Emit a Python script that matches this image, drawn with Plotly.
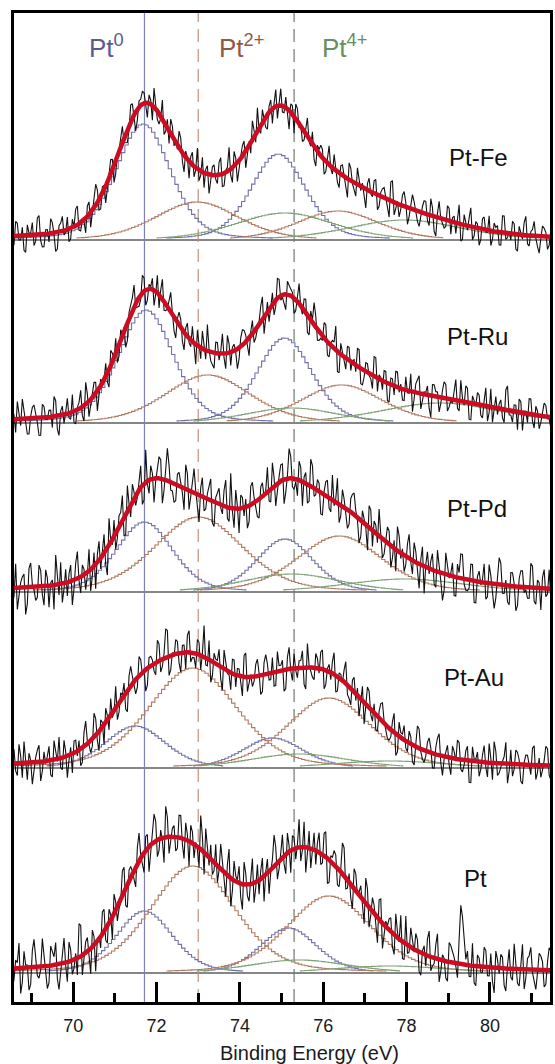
import numpy as np
import plotly.graph_objects as go

# ---------------- data ----------------
panels = ["Pt-Fe", "Pt-Ru", "Pt-Pd", "Pt-Au", "Pt"]
state_labels = ["Pt<sup>0</sup>", "Pt<sup>2+</sup>", "Pt<sup>4+</sup>"]
ref_energies = [71.71, 73.0, 75.3]          # Pt0, Pt2+, Pt4+ reference lines (eV)
x_ticks = [70, 72, 74, 76, 78, 80]
x_minor = [69, 71, 73, 75, 77, 79, 81]

# component order: Pt0 7/2, Pt0 5/2, Pt2+ 7/2, Pt2+ 5/2, Pt4+ 7/2, Pt4+ 5/2
comp_state = [0, 0, 1, 1, 2, 2]

fe_centers = [71.68, 74.92, 72.97, 76.35, 75.08, 77.95]
fe_heights = [116, 86, 38, 29, 27, 20]
fe_fwhm = [1.55, 1.55, 2.35, 2.3, 2.8, 3.2]

ru_centers = [71.75, 75.07, 73.23, 76.44, 75.25, 78.8]
ru_heights = [113, 85, 48, 38, 15, 20]
ru_fwhm = [1.55, 1.55, 2.4, 2.3, 2.6, 3.4]

pd_centers = [71.71, 75.08, 73.01, 76.39, 75.25, 77.96]
pd_heights = [70, 53, 75, 56, 18, 13]
pd_fwhm = [1.6, 1.6, 2.5, 2.4, 2.8, 3.4]

au_centers = [71.49, 74.79, 72.87, 76.14, 75.42, 77.6]
au_heights = [42, 30, 100, 70, 14, 7]
au_fwhm = [1.7, 1.7, 2.5, 2.4, 2.8, 3.2]

pt_centers = [71.71, 75.17, 72.87, 76.14, 75.42, 77.6]
pt_heights = [62, 45, 107, 77, 13, 7]
pt_fwhm = [1.6, 1.6, 2.4, 2.4, 2.8, 3.2]

lorentz_fraction = 0.3

# raw spectra: deviation of measured counts from the fit, sampled every 0.04 eV from 68.5 eV;
# *_even holds samples 0, 2, 4, ...; *_odd holds samples 1, 3, 5, ...
raw_start, raw_step = 68.5, 0.04
fe_even = [3,-4,6,-2,-7,5,1,-5,8,-3, -6,2,7,-1,-8,4,-2,6,-5,0, 9,-4,-1,5,-7,3,6,-6,2,-3,
           7,-8,1,4,-2,-6,8,-1,-5,3, 5,-7,2,9,-4,-1,-6,4,7,-3, -2,6,-8,1,3,-5,10,-2,-7,4,
           -1,5,-4,8,-6,2,-3,7,-9,1, 6,-2,-5,3,11,-4,0,-7,5,2, -6,8,-3,-1,4,-8,6,1,-4,9,
           -2,-6,3,5,-7,2,-1,7,-5,4, 1,-9,6,-3,8,-2,-5,3,-1,6, -7,2,5,-4,9,-6,1,-2,7,-8,
           3,4,-5,-1,6,-3,8,-7,2,0, -4,7,-6,3,1,-8,5,-2,9,-4, 2,-5,6,-1,-7,4,3,-6,8,-2,
           -3,5,-8,1,6,-4,2,7,-5,-1, 4,-6,3,8]
fe_odd = [-5,7,-2,4,-8,1,6,-3,9,-6, 2,-4,5,-9,3,7,-1,-6,4,8, -3,1,-7,6,-2,10,-5,3,-8,2,
          5,-6,1,8,-4,-2,7,-9,3,6, -1,4,-7,2,-5,9,-3,-6,5,1, 8,-4,3,-8,6,-1,-5,7,2,-9,
          4,-2,6,-6,1,11,-7,3,-3,5, -8,2,9,-4,-1,6,-5,3,-7,8, 1,-3,5,-9,4,7,-2,-6,3,-1,
          6,-8,2,4,-5,9,-3,1,-7,5, -4,8,-1,-6,3,2,-9,6,-2,7, -5,4,1,-8,10,-3,-6,5,2,-4,
          7,-1,-7,3,6,-5,4,-9,8,-2, -3,6,2,-5,9,-7,1,4,-6,3, -8,5,-1,7,-4,2,-6,8,-3,1,
          6,-7,4,-2,9,-5,3,-1,-8,5, 2,-4,7]
ru_even = [-5,2,8,-3,4,-7,1,6,-2,-8, 5,-1,3,9,-6,2,-4,7,-3,-5, 1,8,-7,4,-2,6,-9,3,0,-4,
           7,-1,-6,5,2,-8,4,10,-3,-2, 6,-5,1,-7,8,3,-4,-1,9,-6, 2,4,-8,6,-3,-1,7,-5,3,12,
           -4,-7,5,1,-2,8,-6,3,-9,4, 6,-3,2,-5,-1,7,-8,4,1,-6, 9,-2,-4,6,3,-7,2,-1,5,-8,
           4,10,-5,-2,7,-6,1,3,-9,5, -1,6,-4,2,8,-7,-3,4,-2,9, -6,1,5,-8,3,-4,7,2,-5,-1,
           8,-3,6,-7,1,4,-10,5,2,-3, 7,-6,-1,3,-4,9,-2,6,-8,1, 5,-5,2,-7,8,-1,-3,4,-6,11,
           -2,3,-8,5,1,-4,7,-6,2,-3, 6,-1,-5,4]
ru_odd = [4,-6,1,9,-3,-7,5,2,-8,6, -1,3,-5,7,-9,4,1,-2,8,-6, 3,-4,10,-7,2,5,-3,-1,6,-8,
          4,7,-5,1,-9,3,6,-2,-4,8, -7,2,5,-1,-6,9,-3,4,1,-8, 6,-5,3,-2,7,-9,2,8,-4,1,
          -6,5,-3,9,-7,4,2,-1,-5,7, 3,-8,6,-4,1,10,-2,-6,5,-3, 8,-1,-7,4,2,-5,9,-3,6,-8,
          1,5,-4,-2,7,-6,3,11,-9,2, -5,6,1,-3,8,-7,4,-1,-6,9, 2,-4,5,-8,3,7,-2,-5,6,-1,
          -9,4,8,-3,1,-6,5,2,-7,3, 6,-4,-2,9,-5,1,7,-8,3,-1, 4,-6,8,-3,-7,5,2,-4,9,-2,
          -5,3,6,-8,1,7,-3,4,-6,2, 5,-1,-7]
pd_even = [7,-3,-8,2,5,-6,9,-1,-4,6, -7,3,1,-9,4,8,-2,-5,6,-3, 10,-6,2,-1,-8,5,3,-4,7,-10,
           1,6,-3,4,-7,9,-5,2,-2,8, -6,-1,5,-9,3,7,-4,12,-3,-7, 4,1,-8,6,-2,9,-6,3,-5,2,
           8,-9,4,-1,6,-4,13,-7,1,5, -3,-8,7,2,-6,4,-1,9,-5,3, -2,6,-9,1,8,-4,-6,5,2,-7,
           10,-3,4,-8,1,6,-5,-2,9,-4, 3,-7,5,8,-1,-6,2,-9,7,4, -3,1,-5,6,-8,3,9,-2,-6,5,
           -1,7,-4,2,-10,6,3,-5,8,-3, -6,4,1,-7,5,9,-2,-4,6,-8, 2,-1,7,-5,3,-9,4,8,-3,-6,
           5,1,-7,6,-2,-4,9,-5,3,-8, 7,-2,-4,5]
pd_odd = [-6,9,-2,4,-10,7,1,-5,8,-3, 6,-8,2,11,-4,-7,5,3,-9,6, -1,4,-6,8,-3,-9,7,2,-5,10,
          -2,-6,4,9,-8,1,6,-4,3,-7, 12,-5,2,-1,8,-9,4,6,-3,-6, 5,-2,9,-7,3,1,-10,7,-4,5,
          -8,2,6,-3,10,-5,-1,7,-9,4, 3,-6,8,-2,-7,5,1,-4,9,-8, 2,6,-5,11,-3,-1,7,-9,4,-6,
          8,-2,3,-8,5,-4,9,1,-7,6, -3,-5,7,2,-9,4,-1,8,-6,3, 10,-7,1,5,-4,-8,6,2,-3,9,
          -5,4,-9,7,1,-2,6,-6,3,-10, 8,-1,5,-7,2,9,-4,-3,6,-8, 4,1,-6,7,-2,-5,10,-3,2,-7,
          5,-9,3,6,-1,-4,8,-6,2,4, -3,7,-5]
au_even = [-2,6,-5,3,9,-7,1,-3,5,-8, 4,2,-6,8,-1,-4,7,-9,3,5, -2,-7,6,1,-5,10,-3,4,-8,2,
           7,-1,-6,3,5,-9,8,-2,-4,6, 1,-7,4,-3,9,-5,2,11,-6,-1, 5,-8,3,7,-4,-2,6,-6,13,-3,
           -9,4,2,-5,8,-1,-7,6,3,-4, 9,-6,1,-2,7,-8,5,4,-3,-6, 8,2,-9,5,-1,6,-4,3,-7,10,
           -2,-5,4,7,-8,1,-3,9,-6,2, 5,-4,-7,6,3,-1,-9,8,-2,4, -6,7,1,-5,-3,8,-7,2,6,-4,
           3,-8,9,-1,-5,4,2,-6,7,-3, -1,5,-7,3,8,-4,-2,6,-9,1, 4,-3,7,-6,2,9,-5,-1,3,-8,
           6,-2,5,-7,1,4,-4,8,-3,-5, 2,7,-6,3]
au_odd = [5,-3,8,-6,1,4,-9,2,7,-4, -1,6,-7,3,9,-5,2,-2,-8,5, 4,-6,10,-1,-3,7,-8,2,6,-5,
          -2,9,-4,1,-7,5,3,-6,8,-1, -9,4,2,-5,7,-3,12,-8,1,6, -4,3,-7,9,-2,-6,5,1,-3,8,
          -6,2,7,-9,4,-1,6,-5,3,-8, 10,-2,-4,5,1,-7,8,-3,6,-6, 2,4,-8,9,-5,-1,3,7,-9,1,
          -4,6,-2,8,-6,3,5,-7,2,-1, 9,-5,4,-3,-8,6,1,7,-4,-6, 3,8,-2,-5,4,-9,6,2,-3,5,
          -7,1,8,-4,-2,6,-6,3,9,-8, 2,-3,5,-1,7,-5,4,-9,6,1, -6,3,-2,8,-7,5,-4,1,9,-3,
          -5,6,2,-8,4,-1,7,-6,3,-2, 8,-4,5]
pt_even = [8,-4,2,-9,6,1,-6,10,-3,-1, 5,-8,7,3,-5,-2,9,-7,4,-3, -6,11,-2,5,-9,3,1,-4,8,-6,
           2,7,-5,-1,9,-8,4,-3,6,1, -7,5,-2,10,-6,3,-9,7,-1,4, -4,8,-7,2,6,-5,-1,12,-8,3,
           5,-3,-6,9,-2,4,-10,7,1,-5, 8,-4,2,-7,6,3,-9,5,-1,11, -6,2,-3,7,-8,4,1,-5,9,-2,
           -7,6,3,-4,8,-9,2,5,-6,1, 10,-3,-5,7,-1,4,-8,6,-2,3, -9,8,-4,1,5,-7,2,9,-6,-3,
           7,-1,4,-8,3,6,-5,-2,9,-4, 1,-7,6,2,-5,21,10,5,-4,-6, 4,-2,7,-3,5,-9,3,5,-6,1,
           -3,9,-5,2,-7,4,8,-4,-1,5, -6,3,7,-8]
pt_odd = [-7,3,9,-5,1,-8,6,2,-4,10, -2,-6,5,8,-9,3,-1,7,-5,2, 12,-7,4,-3,6,-10,1,8,-4,5,
          -8,3,-2,9,-6,4,1,-7,10,-3, 5,-9,2,7,-4,-1,11,-6,3,-5, 8,-2,6,-9,4,1,-7,5,9,-3,
          -5,7,-1,3,-8,10,-4,2,6,-9, 4,-6,9,-2,-5,7,1,-8,3,6, -3,8,-7,2,5,-4,10,-1,-9,6,
          1,-5,7,-3,9,-8,2,4,-6,11, -4,3,-8,6,1,-2,9,-7,5,-3, 7,-9,2,4,-5,8,-1,-6,10,-2,
          3,6,-7,1,-4,9,-3,5,-8,2, -6,7,4,-1,9,17,2,-4,8,-7, 3,-2,6,-3,-5,6,-2,4,-8,7,
          -4,2,-6,9,-3,5,-1,-7,6,3, -5,8,-2]
noise_gain = [2.1, 2.2, 2.7, 2.4, 2.8]

all_centers = [fe_centers, ru_centers, pd_centers, au_centers, pt_centers]
all_heights = [fe_heights, ru_heights, pd_heights, au_heights, pt_heights]
all_fwhm = [fe_fwhm, ru_fwhm, pd_fwhm, au_fwhm, pt_fwhm]
all_even = [fe_even, ru_even, pd_even, au_even, pt_even]
all_odd = [fe_odd, ru_odd, pd_odd, au_odd, pt_odd]

# ---------------- layout / style ----------------
W, H = 555, 1064
PLOT_TOP, PLOT_BOTTOM = 13, 1002
PLOT_LEFT, PLOT_RIGHT = 14, 553
baseline_px = [240, 423, 592, 768, 973]
label_px = [(481, 157), (480, 337), (480, 508), (477, 677), (478, 878)]
state_label_px = [(107, 47), (243, 47), (346, 47)]
x_range = [68.58, 81.44]
FONT = "Liberation Sans, Arial, Helvetica, sans-serif"
state_colors = ["#7272a8", "#b07a60", "#7fa276"]
label_colors = ["#5b5b90", "#8f5a44", "#68905e"]
ref_line_colors = ["#8080b8", "#c49078", "#6a7d6a"]
ref_line_dash = ["solid", "13px,7px", "13px,7px"]


def pseudo_voigt(x, c, h, w, eta):
    d = (x - c) / w
    return h * ((1 - eta) * np.exp(-4 * np.log(2) * d * d) + eta / (1 + 4 * d * d))


def px_to_paper(px, py):
    return ((px - PLOT_LEFT) / (PLOT_RIGHT - PLOT_LEFT),
            (PLOT_BOTTOM - py) / (PLOT_BOTTOM - PLOT_TOP))


fig = go.Figure()
fine_x = np.arange(x_range[0] - 0.1, x_range[1] + 0.1, 0.04)
step_x = np.arange(x_range[0] - 0.1, x_range[1] + 0.1, 0.08)

for i, name in enumerate(panels):
    yref = "y" if i == 0 else f"y{i+1}"
    cs, hs, ws = all_centers[i], all_heights[i], all_fwhm[i]
    resid = np.empty(len(all_even[i]) + len(all_odd[i]))
    resid[0::2] = all_even[i]
    resid[1::2] = all_odd[i]
    raw_x = raw_start + raw_step * np.arange(len(resid))
    # components
    for k in range(len(cs)):
        yv = pseudo_voigt(step_x, cs[k], hs[k], ws[k], lorentz_fraction)
        keep = yv >= 2.0
        fig.add_trace(go.Scatter(x=step_x[keep], y=yv[keep], mode="lines", yaxis=yref,
                                 line=dict(color=state_colors[comp_state[k]], width=1.1, shape="hvh"),
                                 hoverinfo="skip", showlegend=False))
    # raw data
    env_raw = sum(pseudo_voigt(raw_x, cs[k], hs[k], ws[k], lorentz_fraction) for k in range(len(cs)))
    raw_y = env_raw + noise_gain[i] * resid
    fig.add_trace(go.Scatter(x=raw_x, y=raw_y, mode="lines", yaxis=yref,
                             line=dict(color="#111111", width=1.1),
                             hoverinfo="skip", showlegend=False))
    # fitted envelope
    env = sum(pseudo_voigt(fine_x, cs[k], hs[k], ws[k], lorentz_fraction) for k in range(len(cs)))
    fig.add_trace(go.Scatter(x=fine_x, y=env, mode="lines", yaxis=yref,
                             line=dict(color="#cc0c22", width=4.5),
                             hoverinfo="skip", showlegend=False))
    # baseline
    fig.add_shape(type="line", xref="paper", x0=0, x1=1, yref=yref, y0=0, y1=0,
                  line=dict(color="#5e5e5e", width=1.5), layer="below")
    # axis for this panel: 1 unit = 1 px, zero at the panel baseline
    B = baseline_px[i]
    rng = [-(PLOT_BOTTOM - B), B - PLOT_TOP]
    key = "yaxis" if i == 0 else f"yaxis{i+1}"
    if i == 0:
        fig.layout[key] = dict(range=rng, showline=True, linewidth=3, linecolor="black", mirror=True,
                               showticklabels=False, ticks="", showgrid=False, zeroline=False,
                               fixedrange=True)
    else:
        fig.layout[key] = dict(range=rng, overlaying="y", visible=False, showgrid=False,
                               zeroline=False, fixedrange=True)
    lx, ly = px_to_paper(*label_px[i])
    fig.add_annotation(text=name, xref="paper", yref="paper", x=lx, y=ly,
                       xanchor="center", yanchor="middle", showarrow=False,
                       font=dict(family=FONT, size=24, color="#111111"))

# reference energy lines
for j, e in enumerate(ref_energies):
    fig.add_shape(type="line", xref="x", x0=e, x1=e, yref="paper", y0=0, y1=1,
                  line=dict(color=ref_line_colors[j], width=1.2, dash=ref_line_dash[j]),
                  layer="below")

# oxidation state labels
for j, t in enumerate(state_labels):
    sx, sy = px_to_paper(*state_label_px[j])
    fig.add_annotation(text=t, xref="paper", yref="paper", x=sx, y=sy,
                       xanchor="center", yanchor="middle", showarrow=False,
                       font=dict(family=FONT, size=26, color=label_colors[j]))

# axis title
tx, ty = px_to_paper(311, 1053)
fig.add_annotation(text="Binding Energy (eV)", xref="paper", yref="paper", x=tx, y=ty,
                   xanchor="center", yanchor="middle", showarrow=False,
                   font=dict(family=FONT, size=20, color="#1a1a1a"))

fig.update_layout(
    width=W, height=H,
    margin=dict(l=PLOT_LEFT, r=W - PLOT_RIGHT, t=PLOT_TOP, b=H - PLOT_BOTTOM, pad=0),
    paper_bgcolor="white", plot_bgcolor="white",
    showlegend=False,
    xaxis=dict(range=x_range, showline=True, linewidth=3, linecolor="black", mirror=True,
               ticks="inside", ticklen=20, tickwidth=3, tickcolor="black",
               tickvals=x_ticks, ticktext=[str(v) for v in x_ticks],
               tickfont=dict(family=FONT, size=18, color="#1a1a1a"),
               ticklabelstandoff=5,
               minor=dict(tickvals=x_minor, ticks="inside", ticklen=9, tickwidth=3,
                          tickcolor="black", showgrid=False),
               showgrid=False, zeroline=False, fixedrange=True),
)

fig.write_html("out.html", config={"displayModeBar": False},
               post_script="document.body.style.margin='0';"
                           "document.documentElement.style.overflow='hidden';")
